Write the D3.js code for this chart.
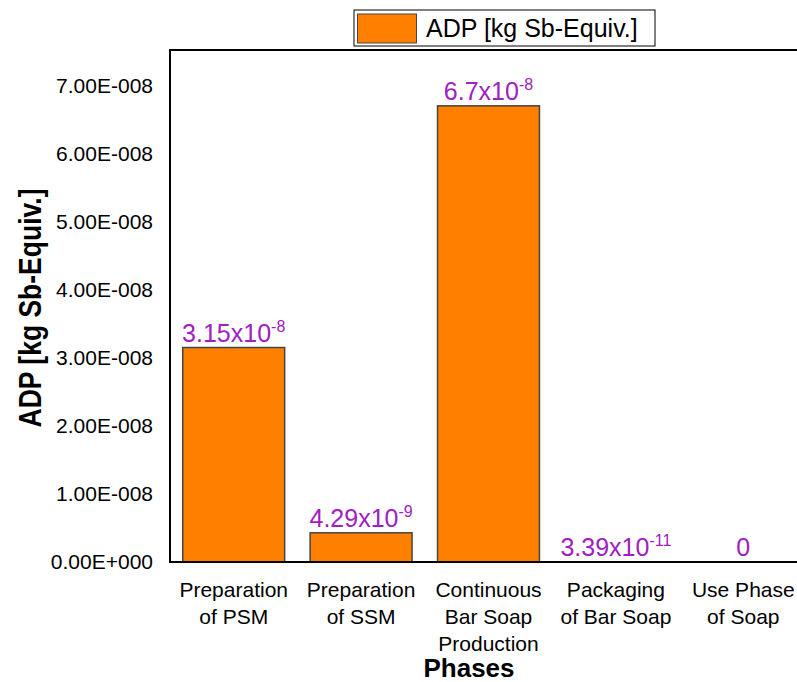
<!DOCTYPE html>
<html>
<head>
<meta charset="utf-8">
<script src="https://cdn.jsdelivr.net/npm/d3@7"></script>
<style>
  body { margin: 0; background: #fff; }
  svg { font-family: "Liberation Sans", Arial, sans-serif; }
</style>
</head>
<body>
<div id="chart"></div>
<script>
// chart data
const phases = [
    ["Preparation", "of PSM"],
    ["Preparation", "of SSM"],
    ["Continuous", "Bar Soap", "Production"],
    ["Packaging", "of Bar Soap"],
    ["Use Phase", "of Soap"]
];
const adpValues = [3.15e-8, 4.29e-9, 6.7e-8, 3.39e-11, 0];
// value labels as mantissa / exponent pairs
const labelBase = ["3.15x10", "4.29x10", "6.7x10", "3.39x10", "0"];
const labelExp = ["-8", "-9", "-8", "-11", ""];
const yTicks = [0, 1e-8, 2e-8, 3e-8, 4e-8, 5e-8, 6e-8, 7e-8];
const seriesName = "ADP [kg Sb-Equiv.]";

const width = 797, height = 682;
const margin = { top: 50, right: -10, bottom: 120, left: 170 };

const svg = d3.select("#chart").append("svg")
    .attr("width", width)
    .attr("height", height);

const x = d3.scaleBand()
    .domain(d3.range(phases.length))
    .range([margin.left, width - margin.right])
    .paddingInner(0.2)
    .paddingOuter(0.1);

const y = d3.scaleLinear()
    .domain([0, 7.52e-8])
    .range([height - margin.bottom, margin.top]);

const fmt = v => v === 0 ? "0.00E+000" : v.toExponential(2).toUpperCase().replace(/E-(\d+)/, (m, e) => "E-" + e.padStart(3, "0"));

// bars
svg.append("g")
    .selectAll("rect")
    .data(adpValues)
    .join("rect")
    .attr("x", (d, i) => x(i))
    .attr("y", d => y(d))
    .attr("width", x.bandwidth())
    .attr("height", d => y(0) - y(d))
    .attr("fill", "#ff8000")
    .attr("stroke", d => d > 1e-10 ? "#444" : "none")
    .attr("stroke-width", 1.5);

// value labels
const labels = svg.append("g")
    .selectAll("text")
    .data(adpValues)
    .join("text")
    .attr("x", (d, i) => x(i) + x.bandwidth() / 2)
    .attr("y", d => y(d) - 6)
    .attr("text-anchor", "middle")
    .attr("fill", "#a020c0")
    .attr("font-size", 25);
labels.append("tspan").text((d, i) => labelBase[i]);
labels.append("tspan")
    .attr("dy", -10)
    .attr("font-size", 16)
    .text((d, i) => labelExp[i]);

// y axis
const yAxis = svg.append("g")
    .attr("transform", `translate(${margin.left},0)`)
    .call(d3.axisLeft(y).tickValues(yTicks).tickFormat(fmt).tickSize(0).tickPadding(17));
yAxis.select(".domain").remove();
yAxis.selectAll("text")
    .attr("font-size", 21)
    .attr("fill", "#000")
    .attr("font-family", "Liberation Sans, Arial, sans-serif");

// x axis labels
const xAxis = svg.append("g")
    .attr("transform", `translate(0,${y(0)})`)
    .call(d3.axisBottom(x).tickSize(0).tickFormat(""));
xAxis.select(".domain").remove();
xAxis.selectAll(".tick").each(function(d) {
    const t = d3.select(this).append("text")
        .attr("text-anchor", "middle")
        .attr("font-size", 21)
        .attr("fill", "#000");
    phases[d].forEach((line, k) => {
        t.append("tspan").attr("x", 0).attr("y", 35 + k * 27).text(line);
    });
});

// frame: left, top, bottom
svg.append("path")
    .attr("d", `M${width},${margin.top}H${margin.left}V${y(0)}H${width}`)
    .attr("fill", "none")
    .attr("stroke", "#000")
    .attr("stroke-width", 2);

// axis titles
svg.append("text")
    .attr("transform", `translate(41,${(margin.top + y(0)) / 2 + 2}) rotate(-90) scale(1,1.15)`)
    .attr("text-anchor", "middle")
    .attr("font-size", 26.5)
    .attr("font-weight", "bold")
    .text("ADP [kg Sb-Equiv.]");

svg.append("text")
    .attr("x", 469)
    .attr("y", 677)
    .attr("text-anchor", "middle")
    .attr("font-size", 26)
    .attr("font-weight", "bold")
    .text("Phases");

// legend
const legend = svg.append("g").attr("transform", "translate(354,10)");
legend.append("rect")
    .attr("width", 301).attr("height", 36)
    .attr("fill", "#fff").attr("stroke", "#000").attr("stroke-width", 1);
legend.append("rect")
    .attr("x", 3.5).attr("y", 4).attr("width", 59).attr("height", 29)
    .attr("fill", "#ff8000").attr("stroke", "#444").attr("stroke-width", 1);
legend.append("text")
    .attr("x", 72).attr("y", 27)
    .attr("font-size", 25)
    .text(seriesName);
</script>
</body>
</html>
